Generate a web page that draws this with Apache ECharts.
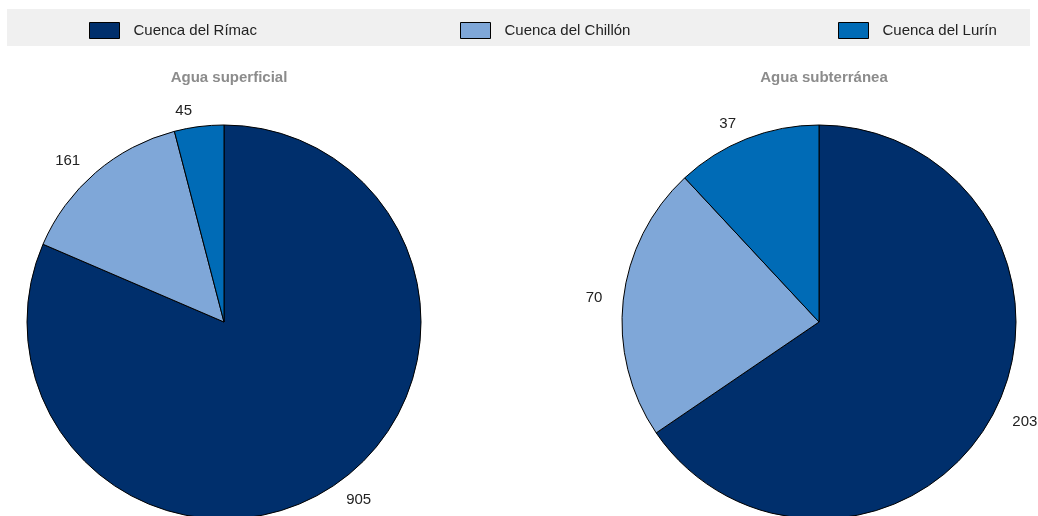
<!DOCTYPE html>
<html>
<head>
<meta charset="utf-8">
<script src="https://cdn.jsdelivr.net/npm/echarts@6/dist/echarts.min.js"></script>
<style>
  html, body { margin: 0; padding: 0; background: #fff; }
  #chart { width: 1038px; height: 516px; }
</style>
</head>
<body>
<div id="chart"></div>
<script>
// Volúmenes por cuenca
const basins = ["Cuenca del Rímac", "Cuenca del Chillón", "Cuenca del Lurín"];
const basinColors = ["#002f6c", "#7fa7d8", "#006bb6"];
const surfaceValues = [905, 161, 45];
const groundValues = [203, 70, 37];
const panelTitles = ["Agua superficial", "Agua subterránea"];

const chart = echarts.init(document.getElementById("chart"));

const toData = vals => vals.map((v, i) => ({
    name: basins[i],
    value: v,
    itemStyle: { color: basinColors[i] }
}));

const pieSeries = (vals, center) => ({
    type: "pie",
    center: center,
    radius: 197,
    startAngle: 90,
    clockwise: true,
    animation: false,
    data: toData(vals),
    itemStyle: { borderColor: "#000", borderWidth: 1 },
    label: {
        show: true,
        position: "outside",
        formatter: "{c}",
        color: "#222",
        fontSize: 15,
        fontFamily: "Liberation Sans",
        overflow: "none"
    },
    labelLine: { show: false, length: 16, length2: 0 },
    emphasis: { disabled: true }
});

const legendFor = (name, left) => ({
    data: [name],
    left: left,
    top: 22,
    padding: 0,
    icon: "rect",
    itemWidth: 30,
    itemHeight: 16,
    textStyle: { color: "#222", fontSize: 15, fontFamily: "Liberation Sans", padding: [0, 0, 0, 9] },
    itemStyle: { borderColor: "#000", borderWidth: 1 },
    selectedMode: false
});

const titleFor = (text, left) => ({
    text: text,
    left: left, top: 65, textAlign: "center",
    textStyle: { color: "#8c8c8c", fontSize: 15, fontWeight: "bold", fontFamily: "Liberation Sans" }
});

chart.setOption({
    backgroundColor: "#fff",
    graphic: [{
        type: "rect",
        left: 7, top: 9,
        shape: { width: 1023, height: 37 },
        style: { fill: "#f0f0f0" },
        z: -1
    }],
    title: [
        titleFor(panelTitles[0], 224),
        titleFor(panelTitles[1], 819)
    ],
    legend: [
        legendFor(basins[0], 89),
        legendFor(basins[1], 460),
        legendFor(basins[2], 838)
    ],
    series: [
        pieSeries(surfaceValues, [224, 322]),
        pieSeries(groundValues, [819, 322])
    ]
});

window.addEventListener("resize", () => chart.resize());
</script>
</body>
</html>
